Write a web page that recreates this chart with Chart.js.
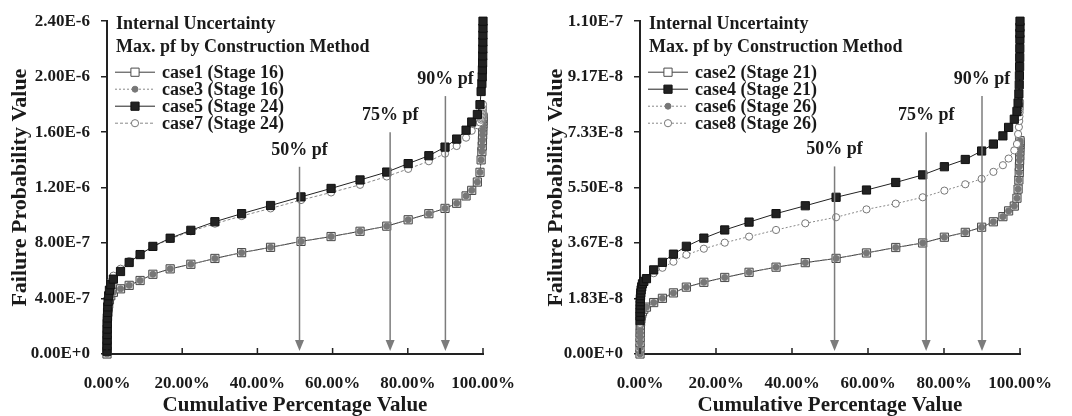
<!DOCTYPE html>
<html>
<head>
<meta charset="utf-8">
<script src="https://cdn.jsdelivr.net/npm/chart.js@4.4.1/dist/chart.umd.min.js"></script>
<style>
  html, body { margin: 0; padding: 0; background: #fff; }
  #wrap { position: relative; width: 1072px; height: 416px; }
  .panel { position: absolute; top: 0; width: 536px; height: 416px; }
</style>
</head>
<body>
<div id="wrap">
  <div class="panel" style="left:0"><canvas id="left-chart" width="536" height="416"></canvas></div>
  <div class="panel" style="left:536px"><canvas id="right-chart" width="536" height="416"></canvas></div>
</div>
<script>
// cumulative percentage of each point (shared by all curves)
const cumPct = [0, 0.01, 0.02, 0.03, 0.05, 0.07, 0.1, 0.15, 0.2, 0.3, 0.45, 0.65, 1.0,
  1.7, 3.6, 5.9, 8.8, 12.2, 16.8, 22.3, 28.7, 35.8, 43.5, 51.6, 59.6, 67.3, 74.4, 80.1, 85.6, 89.9, 93.0, 95.5, 97.0, 98.5,
  99.2, 99.5, 99.7, 99.8, 99.85, 99.9, 99.93, 99.95, 99.97, 99.98, 99.99, 100];

// left panel, values in 1E-6
const leftUnit = 1e-6;
const leftYMax = 2.4;
const case1 = [0.00, 0.04, 0.08, 0.12, 0.16, 0.20, 0.24, 0.27, 0.30, 0.33, 0.36, 0.39, 0.42,
  0.445, 0.47, 0.495, 0.53, 0.575, 0.614, 0.647, 0.689, 0.731, 0.769, 0.812, 0.847, 0.885, 0.922, 0.968, 1.012, 1.05, 1.087, 1.14, 1.18, 1.24,
  1.31, 1.40, 1.46, 1.50, 1.54, 1.58, 1.61, 1.64, 1.66, 1.68, 1.70, 1.71];
const case3 = [0.00, 0.04, 0.08, 0.12, 0.16, 0.20, 0.24, 0.27, 0.30, 0.33, 0.36, 0.39, 0.42,
  0.445, 0.47, 0.495, 0.53, 0.575, 0.614, 0.647, 0.689, 0.731, 0.769, 0.812, 0.847, 0.885, 0.922, 0.968, 1.012, 1.05, 1.087, 1.14, 1.18, 1.24,
  1.31, 1.40, 1.46, 1.50, 1.54, 1.58, 1.61, 1.64, 1.66, 1.68, 1.70, 1.71];
const case5 = [0.02, 0.06, 0.10, 0.14, 0.18, 0.22, 0.26, 0.30, 0.34, 0.38, 0.42, 0.46, 0.50,
  0.54, 0.595, 0.66, 0.717, 0.776, 0.835, 0.892, 0.954, 1.012, 1.071, 1.133, 1.194, 1.255, 1.312, 1.373, 1.430, 1.492, 1.550, 1.614, 1.673, 1.727,
  1.798, 1.893, 1.95, 2.00, 2.05, 2.10, 2.15, 2.20, 2.25, 2.30, 2.35, 2.40];
const case7 = [0.02, 0.07, 0.11, 0.15, 0.20, 0.24, 0.28, 0.32, 0.36, 0.40, 0.44, 0.48, 0.52,
  0.565, 0.615, 0.67, 0.72, 0.775, 0.83, 0.885, 0.94, 0.995, 1.05, 1.11, 1.165, 1.22, 1.28, 1.335, 1.39, 1.445, 1.50, 1.56, 1.61, 1.65,
  1.67, 1.69, 1.70, 1.71, 1.72, 1.73, 1.74, 1.75, 1.76, 1.77, 1.78, 1.80];

// right panel, values in 1E-8
const rightUnit = 1e-8;
const rightYMax = 11.0;
const case2 = [0.00, 0.20, 0.38, 0.55, 0.70, 0.83, 0.95, 1.06, 1.16, 1.25, 1.33, 1.40, 1.48,
  1.55, 1.70, 1.84, 2.02, 2.21, 2.37, 2.53, 2.70, 2.87, 3.02, 3.16, 3.34, 3.52, 3.67, 3.86, 4.02, 4.19, 4.37, 4.54, 4.73, 4.89,
  5.15, 5.45, 5.75, 6.00, 6.20, 6.40, 6.55, 6.70, 6.82, 6.92, 7.00, 7.05];
const case4 = [1.10, 1.25, 1.38, 1.50, 1.62, 1.73, 1.83, 1.93, 2.02, 2.12, 2.22, 2.32, 2.40,
  2.49, 2.78, 3.03, 3.30, 3.56, 3.83, 4.10, 4.36, 4.64, 4.90, 5.18, 5.42, 5.67, 5.92, 6.19, 6.43, 6.71, 6.94, 7.21, 7.49, 7.76,
  8.02, 8.30, 8.60, 8.90, 9.20, 9.50, 9.80, 10.10, 10.40, 10.60, 10.80, 11.00];
const case6 = [0.00, 0.20, 0.38, 0.55, 0.70, 0.83, 0.95, 1.06, 1.16, 1.25, 1.33, 1.40, 1.48,
  1.55, 1.70, 1.84, 2.02, 2.21, 2.37, 2.53, 2.70, 2.87, 3.02, 3.16, 3.34, 3.52, 3.67, 3.86, 4.02, 4.19, 4.37, 4.54, 4.73, 4.89,
  5.15, 5.45, 5.75, 6.00, 6.20, 6.40, 6.55, 6.70, 6.82, 6.92, 7.00, 7.05];
const case8 = [1.00, 1.15, 1.30, 1.42, 1.55, 1.67, 1.78, 1.88, 1.98, 2.08, 2.18, 2.28, 2.38,
  2.48, 2.67, 2.85, 3.05, 3.28, 3.48, 3.68, 3.88, 4.10, 4.32, 4.52, 4.78, 4.97, 5.18, 5.40, 5.61, 5.79, 6.02, 6.24, 6.46, 6.73,
  6.94, 7.27, 7.50, 7.70, 7.85, 7.98, 8.08, 8.15, 8.22, 8.27, 8.31, 8.35];

// percentile arrows
const pfLabels = ['50% pf', '75% pf', '90% pf'];
const pfPct = [51.2, 75.3, 90.0];
const pfTopLeft = [1.35, 1.60, 1.86];   // 1E-6
const pfTopRight = [6.20, 7.33, 8.53];  // 1E-8

const legendTitle = ['Internal Uncertainty', 'Max. pf by Construction Method'];
const xTitle = 'Cumulative Percentage Value';
const yTitle = 'Failure Probability Value';

const SERIF = '"Liberation Serif", "Times New Roman", serif';
const INK = '#1a1a1a';

// marker / line styles (lower order = drawn on top)
const openSquare = { shape: 'rect', radius: 5.8, fill: '#dadada', legendFill: '#ffffff', edge: '#4a4a4a', line: '#3a3a3a', dash: [], order: 3 };
const greyDot = { shape: 'circle', radius: 3, fill: '#777777', edge: '#777777', line: '#888888', dash: [2, 2], order: 2 };
const blackSquare = { shape: 'rect', radius: 5.8, fill: '#222222', edge: '#111111', line: '#222222', dash: [], order: 0 };
const openCircle = { shape: 'circle', radius: 3.6, fill: '#ffffff', edge: '#777777', line: '#888888', dash: [3, 2], order: 1 };
const openCircleDot = Object.assign({}, openCircle, { dash: [2, 2] });

const leftSeries = [
  { label: 'case1 (Stage 16)', values: case1, style: openSquare },
  { label: 'case3 (Stage 16)', values: case3, style: greyDot },
  { label: 'case5 (Stage 24)', values: case5, style: blackSquare },
  { label: 'case7 (Stage 24)', values: case7, style: openCircle }
];
const rightSeries = [
  { label: 'case2 (Stage 21)', values: case2, style: openSquare },
  { label: 'case4 (Stage 21)', values: case4, style: blackSquare },
  { label: 'case6 (Stage 26)', values: case6, style: greyDot },
  { label: 'case8 (Stage 26)', values: case8, style: openCircleDot }
];

function drawMarker(ctx, st, x, y) {
  ctx.save();
  ctx.fillStyle = st.legendFill || st.fill;
  ctx.strokeStyle = st.edge;
  ctx.lineWidth = 1;
  ctx.setLineDash([]);
  Chart.helpers.drawPoint(ctx, { pointStyle: st.shape, radius: st.radius, rotation: 0, borderWidth: 1 }, x, y);
  ctx.restore();
}

function makeChart(id, series, unit, yMax, pfTop, axisLeft, padRight) {
  const datasets = series.map(s => ({
    label: s.label,
    data: cumPct.map((p, i) => ({ x: p, y: s.values[i] * unit })),
    borderColor: s.style.line,
    borderWidth: 1,
    borderDash: s.style.dash,
    pointStyle: s.style.shape,
    pointRadius: s.style.radius,
    pointBackgroundColor: s.style.fill,
    pointBorderColor: s.style.edge,
    pointBorderWidth: 1,
    order: s.style.order,
    tension: 0,
    fill: false,
    clip: 10
  }));

  const extras = {
    id: 'extras',
    afterDatasetsDraw(chart) {
      const { ctx, chartArea, scales } = chart;
      const xs = scales.x, ys = scales.y;

      // inside tick marks on the x axis
      ctx.save();
      ctx.strokeStyle = '#222';
      ctx.lineWidth = 1.5;
      xs.ticks.forEach(t => {
        const px = xs.getPixelForValue(t.value);
        ctx.beginPath();
        ctx.moveTo(px, chartArea.bottom);
        ctx.lineTo(px, chartArea.bottom - 6);
        ctx.stroke();
      });
      ctx.restore();

      // percentile arrows
      ctx.save();
      pfPct.forEach((p, i) => {
        const px = xs.getPixelForValue(p);
        const top = ys.getPixelForValue(pfTop[i] * unit);
        const tip = chartArea.bottom - 3;
        ctx.strokeStyle = '#7c7c7c';
        ctx.fillStyle = '#7c7c7c';
        ctx.lineWidth = 1.5;
        ctx.beginPath();
        ctx.moveTo(px, top);
        ctx.lineTo(px, tip - 9);
        ctx.stroke();
        ctx.beginPath();
        ctx.moveTo(px - 4.5, tip - 11);
        ctx.lineTo(px + 4.5, tip - 11);
        ctx.lineTo(px, tip);
        ctx.closePath();
        ctx.fill();
        ctx.fillStyle = INK;
        ctx.font = 'bold 18px ' + SERIF;
        ctx.textAlign = 'center';
        ctx.textBaseline = 'alphabetic';
        ctx.fillText(pfLabels[i], px, top - 12);
      });
      ctx.restore();

      // legend box
      ctx.save();
      const lx = chartArea.left + 9;
      ctx.fillStyle = INK;
      ctx.font = 'bold 18px ' + SERIF;
      ctx.textAlign = 'left';
      ctx.textBaseline = 'middle';
      ctx.fillText(legendTitle[0], lx, chartArea.top + 3);
      ctx.fillText(legendTitle[1], lx, chartArea.top + 26);
      series.forEach((s, i) => {
        const cy = chartArea.top + 51 + i * 17;
        ctx.strokeStyle = s.style.line;
        ctx.lineWidth = 1;
        ctx.setLineDash(s.style.dash);
        ctx.beginPath();
        ctx.moveTo(lx - 1, cy);
        ctx.lineTo(lx + 39, cy);
        ctx.stroke();
        ctx.setLineDash([]);
        drawMarker(ctx, s.style, lx + 19, cy);
        ctx.fillStyle = INK;
        ctx.fillText(s.label, lx + 46, cy + 1);
      });
      ctx.restore();
    }
  };

  return new Chart(document.getElementById(id), {
    type: 'line',
    data: { datasets },
    options: {
      responsive: false,
      animation: false,
      events: [],
      layout: { padding: { top: 15, right: padRight, left: 0, bottom: 0 } },
      plugins: { legend: { display: false }, tooltip: { enabled: false } },
      scales: {
        x: {
          type: 'linear',
          min: 0,
          max: 100,
          grid: { display: false },
          border: { display: true, color: '#222', width: 2 },
          ticks: {
            stepSize: 20,
            autoSkip: false,
            maxRotation: 0,
            padding: 11,
            color: INK,
            font: { family: SERIF, size: 17, weight: 'bold' },
            callback: v => v.toFixed(2) + '%'
          },
          title: {
            display: true,
            text: xTitle,
            color: INK,
            font: { family: SERIF, size: 21, weight: 'bold', lineHeight: 1.0 },
            padding: { top: 0, bottom: 0 }
          },
          afterFit(scale) { scale.height = 62; }
        },
        y: {
          type: 'linear',
          min: 0,
          max: yMax * unit,
          grid: { display: true, drawOnChartArea: false, drawTicks: true, tickLength: 6, color: '#222', lineWidth: 1.5 },
          border: { display: true, color: '#222', width: 2 },
          ticks: {
            padding: 11,
            color: INK,
            font: { family: SERIF, size: 17, weight: 'bold' },
            callback: v => v.toExponential(2).toUpperCase()
          },
          afterBuildTicks(scale) {
            scale.ticks = [0, 1, 2, 3, 4, 5, 6].map(k => ({ value: yMax * unit * k / 6 }));
          },
          title: {
            display: true,
            text: yTitle,
            color: INK,
            font: { family: SERIF, size: 22, weight: 'bold', lineHeight: 1.2 },
            padding: { top: 7, bottom: 0 }
          },
          afterFit(scale) { scale.width = axisLeft; }
        }
      }
    },
    plugins: [extras]
  });
}

makeChart('left-chart', leftSeries, leftUnit, leftYMax, pfTopLeft, 107, 53);
makeChart('right-chart', rightSeries, rightUnit, rightYMax, pfTopRight, 104, 52);
</script>
</body>
</html>
